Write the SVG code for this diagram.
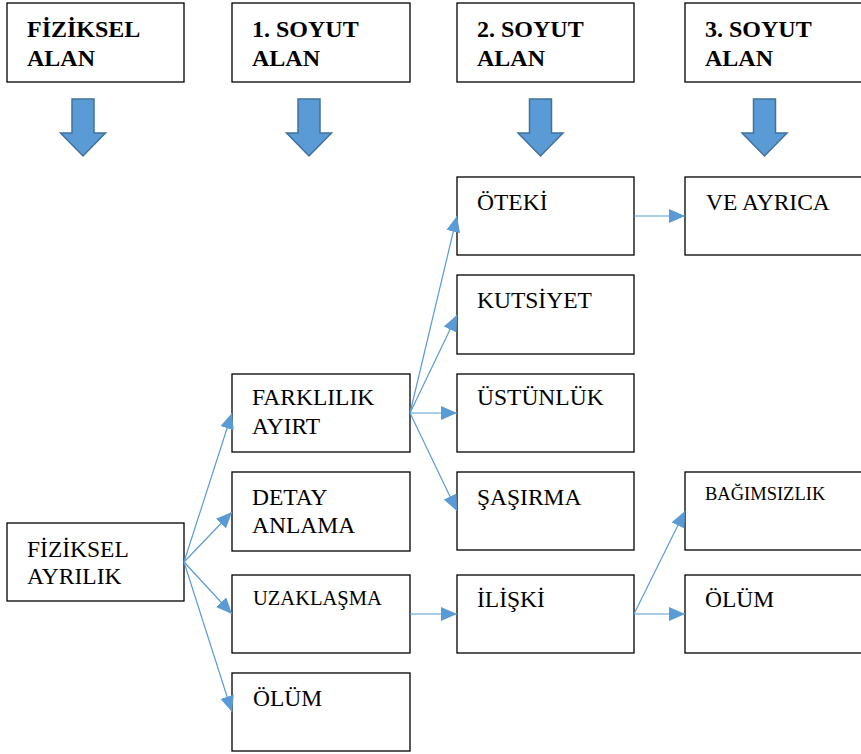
<svg xmlns="http://www.w3.org/2000/svg" width="861" height="754" viewBox="0 0 861 754" font-family="Liberation Serif, Times New Roman, DejaVu Serif, serif">
<defs>
<style>
.box{fill:#fff;stroke:#000;stroke-width:1.3}
.hd{font-weight:bold;font-size:24px;fill:#000}
.tx{font-size:23.5px;fill:#000}
.sm{font-size:20.5px;fill:#000}
.xs{font-size:18.5px;fill:#000}
.con{stroke:#5B9BD5;stroke-width:1.2;fill:none;marker-end:url(#ah)}
.blk{fill:#5B9BD5;stroke:#41719C;stroke-width:1.5}
</style>
<marker id="ah" markerUnits="userSpaceOnUse" markerWidth="16" markerHeight="14" viewBox="0 0 16 14" refX="16" refY="7" orient="auto">
<path d="M0,0 L16,7 L0,14 Z" fill="#5B9BD5"/>
</marker>
</defs>
<rect width="861" height="754" fill="#fff"/>

<g id="h0"><rect class="box" x="7" y="3" width="177" height="79"/><text class="hd" x="27" y="37">FİZİKSEL</text><text class="hd" x="27" y="66">ALAN</text></g>
<g id="h1"><rect class="box" x="232" y="3" width="178" height="79"/><text class="hd" x="252" y="37">1. SOYUT</text><text class="hd" x="252" y="66">ALAN</text></g>
<g id="h2"><rect class="box" x="457" y="3" width="177" height="79"/><text class="hd" x="477" y="37">2. SOYUT</text><text class="hd" x="477" y="66">ALAN</text></g>
<g id="h3"><rect class="box" x="685" y="3" width="178" height="79"/><text class="hd" x="705" y="37">3. SOYUT</text><text class="hd" x="705" y="66">ALAN</text></g>

<g id="down-arrows">
<polygon class="blk" points="72,99 94,99 94,133 105.5,133 83,156 60.5,133 72,133"/>
<polygon class="blk" points="298,99 320,99 320,133 331.5,133 309,156 286.5,133 298,133"/>
<polygon class="blk" points="529.5,99 551.5,99 551.5,133 563,133 540.5,156 518,133 529.5,133"/>
<polygon class="blk" points="753.5,99 775.5,99 775.5,133 787,133 764.5,156 742,133 753.5,133"/>
</g>

<g id="n-fiziksel"><rect class="box" x="7" y="523" width="177" height="78"/><text class="tx" x="27" y="557">FİZİKSEL</text><text class="tx" x="27" y="584">AYRILIK</text></g>

<g id="n-farklilik"><rect class="box" x="232" y="374" width="178" height="78"/><text class="tx" x="252" y="405">FARKLILIK</text><text class="tx" x="252" y="434">AYIRT</text></g>
<g id="n-detay"><rect class="box" x="232" y="472" width="178" height="79"/><text class="tx" x="252" y="505">DETAY</text><text class="tx" x="252" y="533">ANLAMA</text></g>
<g id="n-uzaklasma"><rect class="box" x="232" y="575" width="178" height="78"/><text class="sm" x="253" y="605">UZAKLAŞMA</text></g>
<g id="n-olum1"><rect class="box" x="232" y="673" width="178" height="78"/><text class="tx" x="253" y="706">ÖLÜM</text></g>

<g id="n-oteki"><rect class="box" x="457" y="177" width="177" height="78"/><text class="tx" x="477" y="210">ÖTEKİ</text></g>
<g id="n-kutsiyet"><rect class="box" x="457" y="275" width="177" height="79"/><text class="tx" x="477" y="308">KUTSİYET</text></g>
<g id="n-ustunluk"><rect class="box" x="457" y="374" width="177" height="78"/><text class="tx" x="477" y="405">ÜSTÜNLÜK</text></g>
<g id="n-sasirma"><rect class="box" x="457" y="472" width="177" height="78"/><text class="tx" x="477" y="505">ŞAŞIRMA</text></g>
<g id="n-iliski"><rect class="box" x="457" y="575" width="177" height="78"/><text class="tx" x="477" y="607">İLİŞKİ</text></g>

<g id="n-veayrica"><rect class="box" x="685" y="177" width="178" height="78"/><text class="tx" x="706" y="210">VE AYRICA</text></g>
<g id="n-bagimsizlik"><rect class="box" x="685" y="472" width="178" height="78"/><text class="xs" x="705" y="500">BAĞIMSIZLIK</text></g>
<g id="n-olum2"><rect class="box" x="685" y="575" width="178" height="78"/><text class="tx" x="705" y="607">ÖLÜM</text></g>

<g id="connectors">
<line class="con" x1="184" y1="562" x2="232" y2="413"/>
<line class="con" x1="184" y1="562" x2="232" y2="512"/>
<line class="con" x1="184" y1="562" x2="232" y2="614"/>
<line class="con" x1="184" y1="562" x2="232" y2="712"/>
<line class="con" x1="410" y1="413" x2="457" y2="216"/>
<line class="con" x1="410" y1="413" x2="457" y2="315"/>
<line class="con" x1="410" y1="413" x2="457" y2="413"/>
<line class="con" x1="410" y1="413" x2="457" y2="511"/>
<line class="con" x1="634" y1="216" x2="685" y2="216"/>
<line class="con" x1="410" y1="614" x2="457" y2="614"/>
<line class="con" x1="634" y1="614" x2="685" y2="511"/>
<line class="con" x1="634" y1="614" x2="685" y2="614"/>
</g>
</svg>
